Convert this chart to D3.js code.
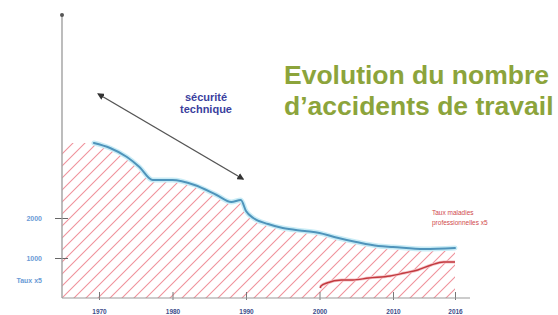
<!DOCTYPE html>
<html><head><meta charset="utf-8">
<script src="https://cdn.jsdelivr.net/npm/d3@7"></script>
<style>body{margin:0;background:#fff}svg{display:block}</style>
</head><body>
<script>
// ---- data ----
const tickYears = [1970, 1980, 1990, 2000, 2010, 2016];
const tickYearLabels = ["1970", "1980", "1990", "2000", "2010", "2016"];
const yTickValues = [2000, 1000, 450];
const yTickLabels = ["2000", "1000", "Taux x5"];
const accYears = [1969.3, 1971.5, 1973.8, 1975.5, 1977.3, 1980, 1983, 1986, 1988, 1989.3, 1990, 1991, 1993, 1995, 1998, 2000, 2002, 2005, 2008, 2010, 2013, 2016];
const accValues = [3875, 3750, 3525, 3275, 2950, 2950, 2825, 2575, 2400, 2450, 2175, 2000, 1850, 1750, 1675, 1625, 1525, 1400, 1300, 1275, 1225, 1250];
const mpYears = [2000.1, 2000.2, 2001, 2003, 2004.5, 2006.7, 2009.6, 2011.1, 2012.4, 2013.7, 2014.9, 2016];
const mpValues = [250, 300, 375, 450, 450, 500, 550, 625, 700, 825, 900, 900];
const hatchStartYear = 1965;
const arrowYears = [1969.9, 1989.6];
const arrowValues = [5100, 2975];
const titleLines = ["Evolution du nombre", "d\u2019accidents de travail"];
const secLines = ["sécurité", "technique"];
const mpLabelLines = ["Taux maladies", "professionnelles x5"];

// ---- layout ----
const W = 558, H = 315;
const svg = d3.select("body").append("svg").attr("width", W).attr("height", H);

const x = d3.scaleLinear().domain([1970, 2010, 2016]).range([99, 393, 455]);
const y = d3.scaleLinear().domain([0, 7000]).range([298, 18]);

const defs = svg.append("defs");
const pat = defs.append("pattern").attr("id", "hatch").attr("patternUnits", "userSpaceOnUse")
  .attr("width", 12).attr("height", 12);
pat.append("path").attr("d", "M-3,3 L3,-3 M0,12 L12,0 M9,15 L15,9")
  .attr("stroke", "#f0929c").attr("stroke-width", 1.1).attr("fill", "none");
const mk = defs.append("marker").attr("id", "arr").attr("viewBox", "0 0 10 10")
  .attr("refX", 8).attr("refY", 5).attr("markerWidth", 5).attr("markerHeight", 5)
  .attr("orient", "auto-start-reverse");
mk.append("path").attr("d", "M0,0 L10,5 L0,10 z").attr("fill", "#333");

// hatch area
const accData = accYears.map((yr, i) => ({yr, v: accValues[i]}));
const hatchData = [{yr: hatchStartYear, v: accValues[0]}].concat(accData);
svg.append("path").datum(hatchData)
  .attr("d", d3.area().x(d => x(d.yr)).y0(y(0)).y1(d => y(d.v)).curve(d3.curveMonotoneX))
  .attr("fill", "url(#hatch)");

// axes
const xAxis = d3.axisBottom(x).tickValues(tickYears).tickFormat((d, i) => tickYearLabels[i])
  .tickSizeInner(0).tickSizeOuter(0).tickPadding(11);
const gx = svg.append("g").attr("transform", `translate(0,${y(0)})`).call(xAxis);
gx.select(".domain").remove();
gx.selectAll(".tick text").attr("font-family", "Liberation Sans, Arial").attr("font-size", 6.5)
  .attr("font-weight", "bold").attr("fill", "#3d4d8a");
gx.selectAll(".tick").append("line").attr("y1", -6).attr("y2", 2).attr("stroke", "#777").attr("stroke-width", 1);
svg.append("line").attr("x1", 62).attr("x2", 470).attr("y1", y(0)).attr("y2", y(0))
  .attr("stroke", "#999").attr("stroke-width", 1.2);

const yAxis = d3.axisLeft(y).tickValues(yTickValues).tickFormat((d, i) => yTickLabels[i])
  .tickSizeInner(0).tickSizeOuter(0).tickPadding(20);
const gy = svg.append("g").attr("transform", "translate(62,0)").call(yAxis);
gy.select(".domain").remove();
gy.selectAll(".tick text").attr("font-family", "Liberation Sans, Arial").attr("font-size", 7)
  .attr("font-weight", "bold").attr("fill", "#6a9bd6");
gy.selectAll(".tick").filter((d, i) => i < 2).append("line").attr("x1", -7).attr("x2", 6)
  .attr("stroke", "#666").attr("stroke-width", 1);
svg.append("line").attr("x1", 62).attr("x2", 62).attr("y1", 14).attr("y2", y(0))
  .attr("stroke", "#999").attr("stroke-width", 1.3);
svg.append("circle").attr("cx", 62).attr("cy", 15).attr("r", 2).attr("fill", "#555");

// lines
const line = d3.line().x(d => x(d.yr)).y(d => y(d.v)).curve(d3.curveMonotoneX);
svg.append("path").datum(accData).attr("d", line).attr("fill", "none")
  .attr("stroke", "#c9ecf6").attr("stroke-width", 5).attr("stroke-linecap", "round");
svg.append("path").datum(accData).attr("d", line).attr("fill", "none")
  .attr("stroke", "#4f94bb").attr("stroke-width", 2).attr("stroke-linecap", "round");

const mpData = mpYears.map((yr, i) => ({yr, v: mpValues[i]}));
svg.append("path").datum(mpData).attr("d", line).attr("fill", "none")
  .attr("stroke", "#f5c0c4").attr("stroke-width", 3);
svg.append("path").datum(mpData).attr("d", line).attr("fill", "none")
  .attr("stroke", "#c23a3f").attr("stroke-width", 1.4);

// arrow
svg.append("line")
  .attr("x1", x(arrowYears[0])).attr("y1", y(arrowValues[0]))
  .attr("x2", x(arrowYears[1])).attr("y2", y(arrowValues[1]))
  .attr("stroke", "#555").attr("stroke-width", 1.4)
  .attr("marker-start", "url(#arr)").attr("marker-end", "url(#arr)");

// texts
svg.append("text").attr("x", 206).attr("y", 101).attr("text-anchor", "middle")
  .selectAll("tspan").data(secLines).join("tspan")
  .attr("x", 206).attr("dy", (d, i) => i ? 12 : 0).text(d => d)
  .attr("font-family", "Liberation Sans, Arial").attr("font-size", 11).attr("font-weight", "bold")
  .attr("fill", "#3b3f9e");

svg.append("text").attr("x", 432).attr("y", 215)
  .selectAll("tspan").data(mpLabelLines).join("tspan")
  .attr("x", 432).attr("dy", (d, i) => i ? 10 : 0).text(d => d)
  .attr("font-family", "Liberation Sans, Arial").attr("font-size", 6.5).attr("fill", "#d0494c");

svg.append("text").attr("x", 284).attr("y", 84)
  .selectAll("tspan").data(titleLines).join("tspan")
  .attr("x", 284).attr("dy", (d, i) => i ? 31 : 0).text(d => d)
  .attr("font-family", "Liberation Sans, Arial").attr("font-size", 26.5).attr("font-weight", "bold")
  .attr("fill", "#8ca43b");
</script>
</body></html>
